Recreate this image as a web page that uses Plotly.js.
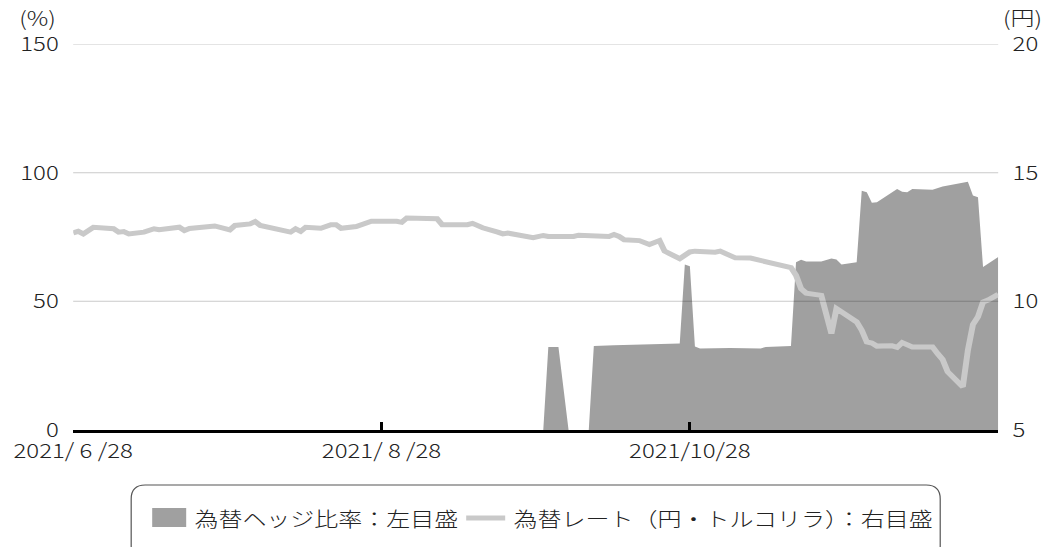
<!DOCTYPE html>
<html><head><meta charset="utf-8">
<script src="https://cdn.plot.ly/plotly-3.0.1.min.js"></script>
<style>
html,body{margin:0;padding:0;background:#fff;overflow:hidden;width:1045px;height:547px;}
#chart{width:871px;height:547px;transform:scaleX(1.19977);transform-origin:0 0;}
</style>
</head><body><div id="chart"></div>
<script>
// Hedge ratio (%) – left axis
const hedgeDates = ['2021-09-29','2021-09-30','2021-10-02','2021-10-04','2021-10-08','2021-10-09','2021-10-13','2021-10-22','2021-10-26','2021-10-27','2021-10-28','2021-10-29','2021-10-30','2021-11-05','2021-11-11','2021-11-12','2021-11-17','2021-11-18','2021-11-19','2021-11-20','2021-11-23','2021-11-25','2021-11-26','2021-11-27','2021-11-30','2021-12-01','2021-12-02','2021-12-03','2021-12-04','2021-12-08','2021-12-09','2021-12-10','2021-12-11','2021-12-15','2021-12-17','2021-12-22','2021-12-23','2021-12-24','2021-12-25','2021-12-28'];
const hedgeValues = [0,32.3,32.3,0,0,32.6,32.9,33.3,33.6,64.3,63.6,32.4,31.7,31.9,31.7,32.3,32.6,65.2,66.2,65.5,65.5,66.6,66.3,64.3,65.2,93.0,92.4,88.3,88.5,93.7,92.6,92.4,93.7,93.4,94.6,96.5,91.1,90.4,63.3,67.2];

// FX rate (JPY per TRY) – right axis
const rateDates = ['2021-06-28','2021-06-29','2021-06-30','2021-07-02','2021-07-06','2021-07-07','2021-07-08','2021-07-09','2021-07-12','2021-07-14','2021-07-15','2021-07-19','2021-07-20','2021-07-21','2021-07-26','2021-07-29','2021-07-30','2021-08-02','2021-08-03','2021-08-04','2021-08-10','2021-08-11','2021-08-12','2021-08-13','2021-08-16','2021-08-18','2021-08-19','2021-08-20','2021-08-23','2021-08-24','2021-08-25','2021-08-26','2021-08-31','2021-09-01','2021-09-02','2021-09-03','2021-09-06','2021-09-07','2021-09-08','2021-09-09','2021-09-14','2021-09-15','2021-09-16','2021-09-17','2021-09-20','2021-09-21','2021-09-22','2021-09-25','2021-09-27','2021-09-29','2021-09-30','2021-10-05','2021-10-06','2021-10-12','2021-10-13','2021-10-14','2021-10-15','2021-10-18','2021-10-20','2021-10-22','2021-10-23','2021-10-26','2021-10-27','2021-10-28','2021-10-29','2021-10-30','2021-11-02','2021-11-03','2021-11-04','2021-11-06','2021-11-09','2021-11-11','2021-11-13','2021-11-15','2021-11-17','2021-11-18','2021-11-19','2021-11-20','2021-11-23','2021-11-25','2021-11-26','2021-11-30','2021-12-01','2021-12-02','2021-12-03','2021-12-04','2021-12-07','2021-12-08','2021-12-09','2021-12-11','2021-12-15','2021-12-16','2021-12-17','2021-12-18','2021-12-21','2021-12-22','2021-12-23','2021-12-24','2021-12-25','2021-12-26','2021-12-27','2021-12-28'];
const rateValues = [12.66,12.72,12.62,12.88,12.82,12.69,12.71,12.62,12.69,12.82,12.78,12.88,12.75,12.83,12.93,12.78,12.95,13.01,13.10,12.95,12.69,12.82,12.72,12.88,12.84,12.98,12.98,12.84,12.91,12.98,13.03,13.11,13.11,13.07,13.24,13.24,13.21,13.24,13.21,12.98,12.98,13.03,12.95,12.86,12.69,12.62,12.65,12.56,12.47,12.56,12.52,12.52,12.57,12.52,12.60,12.52,12.39,12.36,12.21,12.36,11.95,11.66,11.80,11.92,11.95,11.94,11.91,11.95,11.85,11.69,11.68,11.59,11.48,11.37,11.31,11.01,10.49,10.32,10.23,8.75,9.72,9.20,8.88,8.42,8.38,8.26,8.27,8.21,8.40,8.23,8.23,7.97,7.74,7.26,6.68,8.10,9.10,9.40,9.97,10.05,10.15,10.27];

const xTickVals = ['2021-06-28','2021-08-28','2021-10-28'];
const xTickText = ['2021/ 6 /28','2021/ 8 /28','2021/10/28'];
const leftTicks = [0,50,100,150];
const rightTicks = [5,10,15,20];
const legendLabels = ['為替ヘッジ比率：左目盛','為替レート（円・トルコリラ）：右目盛'];

const FONT = '"Noto Sans CJK JP", "Noto Sans", sans-serif';
const TXT = '#222';
const AREA = '#a0a0a0';
const LINE = '#c9c9c9';
const SX = 1045 / 871;   // horizontal stretch applied to the whole chart

const traces = [
  {x: hedgeDates, y: hedgeValues, type:'scatter', mode:'lines', fill:'tozeroy',
   fillcolor: AREA, line:{width:0, color:AREA}, yaxis:'y', hoverinfo:'skip'},
  {x: rateDates, y: rateValues, type:'scatter', mode:'lines',
   line:{width:5, color:LINE}, yaxis:'y2', hoverinfo:'skip'}
];

// paper coordinate helpers in final (stretched) pixels: plot x 73..998, y 44..430
const L = 73, R = 998, T = 44, B = 430;
const px = x => (x - L) / (R - L);
const py = y => 1 - (y - T) / (B - T);

const gridShapes = [50,100,150].map(v => ({
  type:'line', xref:'paper', yref:'y', x0:0, x1:1, y0:v, y1:v,
  line:{color:'rgba(0,0,0,0.21)', width:1}, layer:'above'
}));

const bx0 = 131, bx1 = 940, by0 = 485, by1 = 560, rr = 14;
function P(x,y){ return px(x).toFixed(5)+','+py(y).toFixed(5); }
const boxPath = 'M'+P(bx0+rr,by0)+' L'+P(bx1-rr,by0)+' Q'+P(bx1,by0)+' '+P(bx1,by0+rr)+
  ' L'+P(bx1,by1-rr)+' Q'+P(bx1,by1)+' '+P(bx1-rr,by1)+' L'+P(bx0+rr,by1)+' Q'+P(bx0,by1)+' '+P(bx0,by1-rr)+
  ' L'+P(bx0,by0+rr)+' Q'+P(bx0,by0)+' '+P(bx0+rr,by0)+' Z';

const legY = 518;
const shapes = gridShapes.concat([
  {type:'path', xref:'paper', yref:'paper', path: boxPath, line:{color:'#555', width:1}, fillcolor:'rgba(0,0,0,0)', layer:'above'},
  {type:'rect', xref:'paper', yref:'paper', x0:px(152), x1:px(186), y0:py(527), y1:py(508), fillcolor:AREA, line:{width:0}},
  {type:'line', xref:'paper', yref:'paper', x0:px(466), x1:px(505), y0:py(legY), y1:py(legY), line:{color:LINE, width:5}}
]);

const tf = {family:FONT, size:20, color:TXT, weight:300};
const annotations = [
  {text:'(%)', xref:'paper', yref:'paper', x:px(38), y:py(18), showarrow:false, xanchor:'center', yanchor:'middle', font:tf},
  {text:'(円)', xref:'paper', yref:'paper', x:px(1022), y:py(18), showarrow:false, xanchor:'center', yanchor:'middle', font:tf},
  {text:legendLabels[0], xref:'paper', yref:'paper', x:px(192), y:py(legY), showarrow:false, xanchor:'left', yanchor:'middle', font:tf},
  {text:legendLabels[1], xref:'paper', yref:'paper', x:px(511), y:py(legY), showarrow:false, xanchor:'left', yanchor:'middle', font:tf}
];

const layout = {
  width:871, height:547,
  margin:{l:L/SX, r:(1045-R)/SX, t:T, b:547-B, pad:0},
  paper_bgcolor:'#fff', plot_bgcolor:'#fff',
  showlegend:false,
  font:tf,
  xaxis:{type:'date', range:['2021-06-28','2021-12-28'], tickvals:xTickVals, ticktext:xTickText,
    showgrid:false, zeroline:false, showline:true, linecolor:'#000', linewidth:3,
    ticks:'inside', ticklen:8, tickwidth:2.5, tickcolor:'#000', layer:'above traces',
    tickfont:tf, ticklabelstandoff:1},
  yaxis:{range:[0,150], tickvals:leftTicks, showgrid:false, zeroline:false, showline:false, ticks:'',
    tickfont:tf, ticklabelstandoff:11},
  yaxis2:{range:[5,20], tickvals:rightTicks, overlaying:'y', side:'right', showgrid:false, zeroline:false,
    showline:false, ticks:'', tickfont:tf, ticklabelstandoff:11},
  shapes: shapes,
  annotations: annotations
};

Plotly.newPlot('chart', traces, layout, {staticPlot:true, displayModeBar:false});
</script></body></html>
